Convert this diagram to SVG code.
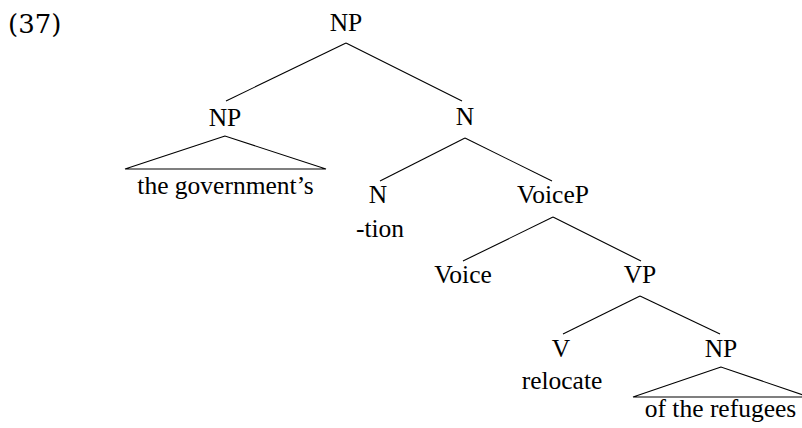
<svg xmlns="http://www.w3.org/2000/svg" width="802" height="428" viewBox="0 0 802 428">
<style>
text{font-family:"Liberation Serif","Times New Roman",serif;font-size:25.5px;fill:#000;text-anchor:middle}
.num{font-family:"DejaVu Serif",serif;font-size:26px;text-anchor:start}
line,polygon{stroke:#000;stroke-width:1.1;fill:none}
</style>
<rect width="802" height="428" fill="#fff"/>
<text class="num" x="8" y="33">(37)</text>
<g id="connectors">
<line x1="346" y1="43" x2="226" y2="101"/>
<line x1="346" y1="43" x2="462" y2="101"/>
<line x1="465" y1="138" x2="380" y2="181"/>
<line x1="465" y1="138" x2="552" y2="181"/>
<line x1="553" y1="217" x2="463" y2="261"/>
<line x1="553" y1="217" x2="641" y2="261"/>
<line x1="640" y1="296" x2="563" y2="334"/>
<line x1="640" y1="296" x2="720" y2="334"/>
</g>
<g id="root-NP"><text x="346" y="31">NP</text></g>
<g id="NP-gov"><text x="225" y="126">NP</text>
<polygon points="225,136 125,169 326,169"/>
<text x="225.5" y="194">the government’s</text></g>
<g id="N-bar"><text x="465" y="125">N</text></g>
<g id="N-tion"><text x="378" y="203">N</text><text x="380" y="237">-tion</text></g>
<g id="VoiceP"><text x="553" y="203">VoiceP</text></g>
<g id="Voice"><text x="463" y="283">Voice</text></g>
<g id="VP"><text x="640" y="283">VP</text></g>
<g id="V"><text x="561" y="357">V</text><text x="562" y="389">relocate</text></g>
<g id="NP-ref"><text x="721" y="357">NP</text>
<polygon points="721,367 633,397 809,397"/>
<text x="720.5" y="417">of the refugees</text></g>
</svg>
